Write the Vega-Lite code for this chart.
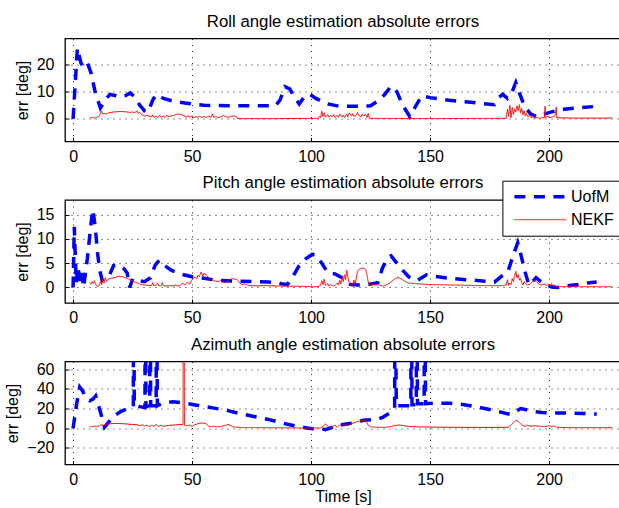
{
  "$schema": "https://vega.github.io/schema/vega-lite/v6.json",
  "padding": {"left": 4, "top": 12.5, "right": 0, "bottom": 2},
  "bounds": "flush",
  "spacing": 58.5,
  "config": {
    "font": "Liberation Sans",
    "view": {"stroke": "black", "strokeWidth": 1.3},
    "axis": {
      "labelFont": "Liberation Sans", "labelFontSize": 16, "labelColor": "black",
      "titleFont": "Liberation Sans", "titleFontSize": 16, "titleFontWeight": "normal", "titleColor": "black",
      "domain": false, "ticks": true, "tickSize": -4, "tickColor": "black", "tickWidth": 1,
      "grid": true, "gridColor": "black", "gridDash": [1, 5], "gridOpacity": 0.85, "gridWidth": 1
    },
    "axisX": {"labelPadding": 10.5, "titlePadding": 1},
    "axisY": {"labelPadding": 15, "titlePadding": 6},
    "title": {"font": "Liberation Sans", "fontSize": 16.8, "fontWeight": "normal", "color": "black", "offset": 8, "anchor": "middle", "frame": "group"}
  },
  "resolve": {"legend": {"color": "independent", "strokeDash": "independent", "strokeWidth": "independent"}},
  "datasets": {
    "roll": [
      {"t":0,"v":0,"s":"UofM"},{"t":1.8,"v":26,"s":"UofM"},{"t":3.3,"v":20.5,"s":"UofM"},{"t":4.5,"v":19,"s":"UofM"},{"t":6,"v":20.5,"s":"UofM"},{"t":7.5,"v":17,"s":"UofM"},{"t":9.5,"v":9,"s":"UofM"},{"t":11.5,"v":4,"s":"UofM"},{"t":13.5,"v":7,"s":"UofM"},{"t":15.5,"v":9,"s":"UofM"},{"t":18,"v":8.5,"s":"UofM"},{"t":20,"v":8,"s":"UofM"},{"t":22,"v":8.5,"s":"UofM"},{"t":24,"v":9.5,"s":"UofM"},{"t":26,"v":8,"s":"UofM"},{"t":28,"v":5,"s":"UofM"},{"t":30,"v":3,"s":"UofM"},{"t":31.5,"v":2.5,"s":"UofM"},{"t":33.5,"v":7,"s":"UofM"},{"t":35,"v":9,"s":"UofM"},{"t":38,"v":7.5,"s":"UofM"},{"t":42,"v":6.5,"s":"UofM"},{"t":47,"v":5.8,"s":"UofM"},{"t":55,"v":5,"s":"UofM"},{"t":65,"v":4.8,"s":"UofM"},{"t":75,"v":4.8,"s":"UofM"},{"t":85,"v":4.8,"s":"UofM"},{"t":87,"v":7,"s":"UofM"},{"t":89,"v":11.8,"s":"UofM"},{"t":91,"v":11,"s":"UofM"},{"t":93,"v":8,"s":"UofM"},{"t":95,"v":5.5,"s":"UofM"},{"t":97.5,"v":8.5,"s":"UofM"},{"t":99.5,"v":9,"s":"UofM"},{"t":102,"v":7.5,"s":"UofM"},{"t":107,"v":5.5,"s":"UofM"},{"t":112,"v":4.6,"s":"UofM"},{"t":118,"v":4.6,"s":"UofM"},{"t":125,"v":4.8,"s":"UofM"},{"t":128,"v":6.5,"s":"UofM"},{"t":131,"v":9,"s":"UofM"},{"t":133.5,"v":12,"s":"UofM"},{"t":136,"v":10,"s":"UofM"},{"t":138.5,"v":5,"s":"UofM"},{"t":141.5,"v":0.8,"s":"UofM"},{"t":143.5,"v":4,"s":"UofM"},{"t":146.5,"v":8.5,"s":"UofM"},{"t":150,"v":7.8,"s":"UofM"},{"t":158,"v":6.8,"s":"UofM"},{"t":166,"v":6.2,"s":"UofM"},{"t":172,"v":5.6,"s":"UofM"},{"t":177,"v":5.2,"s":"UofM"},{"t":179,"v":8,"s":"UofM"},{"t":180.5,"v":9,"s":"UofM"},{"t":182.5,"v":7.5,"s":"UofM"},{"t":184.5,"v":10,"s":"UofM"},{"t":186,"v":13.3,"s":"UofM"},{"t":187.5,"v":9.5,"s":"UofM"},{"t":189.5,"v":5,"s":"UofM"},{"t":192,"v":2,"s":"UofM"},{"t":194.5,"v":0.8,"s":"UofM"},{"t":197,"v":1.5,"s":"UofM"},{"t":200,"v":2.3,"s":"UofM"},{"t":203,"v":3,"s":"UofM"},{"t":207,"v":3.6,"s":"UofM"},{"t":212,"v":4.1,"s":"UofM"},{"t":218.5,"v":4.5,"s":"UofM"},
      {"t":7,"v":0.4,"s":"NEKF"},{"t":8,"v":0.5,"s":"NEKF"},{"t":9,"v":0.3,"s":"NEKF"},{"t":10,"v":0.6,"s":"NEKF"},{"t":11,"v":1.0,"s":"NEKF"},{"t":12,"v":2.8,"s":"NEKF"},{"t":12.5,"v":1.8,"s":"NEKF"},{"t":13,"v":2.0,"s":"NEKF"},{"t":14,"v":1.8,"s":"NEKF"},{"t":15,"v":2.2,"s":"NEKF"},{"t":16,"v":2.4,"s":"NEKF"},{"t":18,"v":2.6,"s":"NEKF"},{"t":20,"v":2.7,"s":"NEKF"},{"t":22,"v":2.6,"s":"NEKF"},{"t":24,"v":2.4,"s":"NEKF"},{"t":25,"v":2.5,"s":"NEKF"},{"t":26,"v":2.3,"s":"NEKF"},{"t":26.8,"v":3.0,"s":"NEKF"},{"t":27.3,"v":2.0,"s":"NEKF"},{"t":28,"v":2.4,"s":"NEKF"},{"t":28.8,"v":1.6,"s":"NEKF"},{"t":29.5,"v":1.2,"s":"NEKF"},{"t":30.5,"v":1.0,"s":"NEKF"},{"t":31,"v":1.4,"s":"NEKF"},{"t":32,"v":0.9,"s":"NEKF"},{"t":33,"v":0.7,"s":"NEKF"},{"t":33.5,"v":1.5,"s":"NEKF"},{"t":34,"v":0.6,"s":"NEKF"},{"t":35,"v":1.0,"s":"NEKF"},{"t":35.5,"v":0.5,"s":"NEKF"},{"t":36.5,"v":1.3,"s":"NEKF"},{"t":37,"v":0.6,"s":"NEKF"},{"t":38,"v":1.1,"s":"NEKF"},{"t":38.5,"v":0.5,"s":"NEKF"},{"t":39.5,"v":1.4,"s":"NEKF"},{"t":40,"v":0.7,"s":"NEKF"},{"t":41,"v":1.0,"s":"NEKF"},{"t":42,"v":1.2,"s":"NEKF"},{"t":43,"v":1.5,"s":"NEKF"},{"t":44,"v":1.8,"s":"NEKF"},{"t":45,"v":1.6,"s":"NEKF"},{"t":46,"v":1.4,"s":"NEKF"},{"t":47,"v":1.0,"s":"NEKF"},{"t":48,"v":0.6,"s":"NEKF"},{"t":48.5,"v":1.2,"s":"NEKF"},{"t":49,"v":0.5,"s":"NEKF"},{"t":50,"v":1.1,"s":"NEKF"},{"t":51,"v":0.4,"s":"NEKF"},{"t":51.5,"v":0.9,"s":"NEKF"},{"t":52.5,"v":0.5,"s":"NEKF"},{"t":53,"v":1.0,"s":"NEKF"},{"t":54,"v":0.6,"s":"NEKF"},{"t":55,"v":0.9,"s":"NEKF"},{"t":56,"v":0.5,"s":"NEKF"},{"t":57,"v":1.0,"s":"NEKF"},{"t":58,"v":0.6,"s":"NEKF"},{"t":58.5,"v":1.8,"s":"NEKF"},{"t":59,"v":0.6,"s":"NEKF"},{"t":60,"v":0.8,"s":"NEKF"},{"t":61,"v":0.5,"s":"NEKF"},{"t":62,"v":0.7,"s":"NEKF"},{"t":63,"v":1.2,"s":"NEKF"},{"t":64,"v":0.9,"s":"NEKF"},{"t":65,"v":0.6,"s":"NEKF"},{"t":66,"v":0.7,"s":"NEKF"},{"t":67,"v":1.1,"s":"NEKF"},{"t":68.5,"v":1.0,"s":"NEKF"},{"t":69,"v":0.2,"s":"NEKF"},{"t":70,"v":0.1,"s":"NEKF"},{"t":85,"v":0.1,"s":"NEKF"},{"t":103,"v":0.2,"s":"NEKF"},{"t":103.5,"v":1.0,"s":"NEKF"},{"t":104,"v":0.5,"s":"NEKF"},{"t":104.5,"v":2.8,"s":"NEKF"},{"t":105,"v":0.8,"s":"NEKF"},{"t":105.5,"v":2.2,"s":"NEKF"},{"t":106,"v":0.7,"s":"NEKF"},{"t":107,"v":1.5,"s":"NEKF"},{"t":107.5,"v":0.6,"s":"NEKF"},{"t":108,"v":1.2,"s":"NEKF"},{"t":109,"v":0.8,"s":"NEKF"},{"t":109.5,"v":1.6,"s":"NEKF"},{"t":110,"v":0.5,"s":"NEKF"},{"t":111,"v":1.3,"s":"NEKF"},{"t":111.5,"v":0.6,"s":"NEKF"},{"t":112,"v":1.8,"s":"NEKF"},{"t":113,"v":0.7,"s":"NEKF"},{"t":113.5,"v":1.4,"s":"NEKF"},{"t":114,"v":0.5,"s":"NEKF"},{"t":115,"v":1.7,"s":"NEKF"},{"t":115.5,"v":0.8,"s":"NEKF"},{"t":116,"v":2.2,"s":"NEKF"},{"t":117,"v":1.0,"s":"NEKF"},{"t":117.5,"v":1.9,"s":"NEKF"},{"t":118,"v":0.9,"s":"NEKF"},{"t":119,"v":1.5,"s":"NEKF"},{"t":119.5,"v":2.4,"s":"NEKF"},{"t":120,"v":1.2,"s":"NEKF"},{"t":121,"v":0.8,"s":"NEKF"},{"t":121.5,"v":1.8,"s":"NEKF"},{"t":122,"v":1.1,"s":"NEKF"},{"t":123,"v":1.6,"s":"NEKF"},{"t":123.5,"v":0.5,"s":"NEKF"},{"t":124,"v":2.0,"s":"NEKF"},{"t":124.5,"v":0.2,"s":"NEKF"},{"t":150,"v":0.1,"s":"NEKF"},{"t":182,"v":0.2,"s":"NEKF"},{"t":182.5,"v":3.5,"s":"NEKF"},{"t":183,"v":1.0,"s":"NEKF"},{"t":183.5,"v":5.0,"s":"NEKF"},{"t":184,"v":0.5,"s":"NEKF"},{"t":184.5,"v":4.2,"s":"NEKF"},{"t":185,"v":1.5,"s":"NEKF"},{"t":185.5,"v":3.6,"s":"NEKF"},{"t":186,"v":2.5,"s":"NEKF"},{"t":186.5,"v":4.8,"s":"NEKF"},{"t":187,"v":3.0,"s":"NEKF"},{"t":187.5,"v":5.2,"s":"NEKF"},{"t":188,"v":2.2,"s":"NEKF"},{"t":188.5,"v":3.8,"s":"NEKF"},{"t":189,"v":1.5,"s":"NEKF"},{"t":189.5,"v":3.0,"s":"NEKF"},{"t":190,"v":1.0,"s":"NEKF"},{"t":190.5,"v":2.2,"s":"NEKF"},{"t":191,"v":0.8,"s":"NEKF"},{"t":192,"v":1.4,"s":"NEKF"},{"t":192.5,"v":0.4,"s":"NEKF"},{"t":193.5,"v":1.0,"s":"NEKF"},{"t":194,"v":0.2,"s":"NEKF"},{"t":195,"v":0.6,"s":"NEKF"},{"t":196,"v":0.2,"s":"NEKF"},{"t":197,"v":0.5,"s":"NEKF"},{"t":198,"v":0.3,"s":"NEKF"},{"t":198.3,"v":4.6,"s":"NEKF"},{"t":198.6,"v":0.6,"s":"NEKF"},{"t":199.5,"v":0.9,"s":"NEKF"},{"t":200.5,"v":0.5,"s":"NEKF"},{"t":201.5,"v":0.8,"s":"NEKF"},{"t":202.5,"v":1.2,"s":"NEKF"},{"t":203,"v":4.3,"s":"NEKF"},{"t":203.2,"v":0.4,"s":"NEKF"},{"t":210,"v":0.3,"s":"NEKF"},{"t":226.5,"v":0.3,"s":"NEKF"}
    ],
    "pitch": [
      {"t":0,"v":0,"s":"UofM"},{"t":0.5,"v":12.5,"s":"UofM"},{"t":1.3,"v":1,"s":"UofM"},{"t":2,"v":4.3,"s":"UofM"},{"t":3,"v":1.2,"s":"UofM"},{"t":3.6,"v":3,"s":"UofM"},{"t":4.4,"v":0,"s":"UofM"},{"t":6,"v":6,"s":"UofM"},{"t":7.5,"v":13,"s":"UofM"},{"t":8.3,"v":16,"s":"UofM"},{"t":9.3,"v":12.5,"s":"UofM"},{"t":10.3,"v":7,"s":"UofM"},{"t":11.2,"v":3.5,"s":"UofM"},{"t":12.2,"v":1.5,"s":"UofM"},{"t":13.5,"v":2,"s":"UofM"},{"t":15,"v":2.2,"s":"UofM"},{"t":17,"v":4.5,"s":"UofM"},{"t":19,"v":4.6,"s":"UofM"},{"t":21.5,"v":3.8,"s":"UofM"},{"t":22.7,"v":3,"s":"UofM"},{"t":23.8,"v":0,"s":"UofM"},{"t":25,"v":1.8,"s":"UofM"},{"t":27.5,"v":1.4,"s":"UofM"},{"t":30,"v":1.2,"s":"UofM"},{"t":32.5,"v":2,"s":"UofM"},{"t":34.5,"v":4.6,"s":"UofM"},{"t":36.2,"v":5.6,"s":"UofM"},{"t":38,"v":4.7,"s":"UofM"},{"t":41,"v":3.6,"s":"UofM"},{"t":45,"v":2.8,"s":"UofM"},{"t":50,"v":2.2,"s":"UofM"},{"t":55,"v":1.9,"s":"UofM"},{"t":60,"v":1.5,"s":"UofM"},{"t":67,"v":1.3,"s":"UofM"},{"t":75,"v":1.2,"s":"UofM"},{"t":82,"v":1.1,"s":"UofM"},{"t":86,"v":1.0,"s":"UofM"},{"t":88,"v":0.7,"s":"UofM"},{"t":90,"v":0.6,"s":"UofM"},{"t":92,"v":2.0,"s":"UofM"},{"t":95,"v":4.5,"s":"UofM"},{"t":98,"v":6,"s":"UofM"},{"t":100.5,"v":6.8,"s":"UofM"},{"t":102,"v":6.7,"s":"UofM"},{"t":104.5,"v":5,"s":"UofM"},{"t":107,"v":3,"s":"UofM"},{"t":110,"v":2.8,"s":"UofM"},{"t":113,"v":2,"s":"UofM"},{"t":115,"v":1.2,"s":"UofM"},{"t":116.5,"v":0.6,"s":"UofM"},{"t":120,"v":0.5,"s":"UofM"},{"t":124,"v":0.6,"s":"UofM"},{"t":128,"v":1,"s":"UofM"},{"t":130,"v":4,"s":"UofM"},{"t":132,"v":6,"s":"UofM"},{"t":133.6,"v":6.5,"s":"UofM"},{"t":136,"v":5,"s":"UofM"},{"t":138.5,"v":3.5,"s":"UofM"},{"t":141,"v":2.2,"s":"UofM"},{"t":144.5,"v":1.4,"s":"UofM"},{"t":148.5,"v":2.6,"s":"UofM"},{"t":152,"v":2.3,"s":"UofM"},{"t":158,"v":1.9,"s":"UofM"},{"t":165,"v":1.6,"s":"UofM"},{"t":173,"v":1.3,"s":"UofM"},{"t":177,"v":1.1,"s":"UofM"},{"t":180,"v":2.3,"s":"UofM"},{"t":182.5,"v":3,"s":"UofM"},{"t":184.5,"v":6,"s":"UofM"},{"t":186.8,"v":9.2,"s":"UofM"},{"t":188,"v":7,"s":"UofM"},{"t":190,"v":3,"s":"UofM"},{"t":191.5,"v":0.5,"s":"UofM"},{"t":193,"v":1.2,"s":"UofM"},{"t":194.5,"v":2,"s":"UofM"},{"t":196.5,"v":1.2,"s":"UofM"},{"t":199,"v":0.5,"s":"UofM"},{"t":201,"v":0.1,"s":"UofM"},{"t":203.5,"v":0,"s":"UofM"},{"t":207,"v":0.3,"s":"UofM"},{"t":212,"v":0.6,"s":"UofM"},{"t":216,"v":0.9,"s":"UofM"},{"t":220,"v":1.1,"s":"UofM"},
      {"t":7,"v":1.0,"s":"NEKF"},{"t":7.5,"v":0.7,"s":"NEKF"},{"t":8,"v":1.2,"s":"NEKF"},{"t":8.5,"v":0.8,"s":"NEKF"},{"t":9,"v":1.4,"s":"NEKF"},{"t":9.5,"v":0.6,"s":"NEKF"},{"t":10,"v":0.3,"s":"NEKF"},{"t":10.5,"v":0.2,"s":"NEKF"},{"t":11,"v":0.4,"s":"NEKF"},{"t":11.5,"v":1.2,"s":"NEKF"},{"t":12,"v":0.5,"s":"NEKF"},{"t":12.5,"v":1.8,"s":"NEKF"},{"t":13,"v":0.9,"s":"NEKF"},{"t":13.5,"v":2.0,"s":"NEKF"},{"t":14,"v":1.2,"s":"NEKF"},{"t":14.5,"v":1.6,"s":"NEKF"},{"t":15,"v":1.7,"s":"NEKF"},{"t":16,"v":1.9,"s":"NEKF"},{"t":17,"v":2.0,"s":"NEKF"},{"t":18,"v":2.1,"s":"NEKF"},{"t":19,"v":2.3,"s":"NEKF"},{"t":20,"v":2.25,"s":"NEKF"},{"t":21,"v":2.2,"s":"NEKF"},{"t":22,"v":2.0,"s":"NEKF"},{"t":23,"v":1.8,"s":"NEKF"},{"t":24,"v":1.6,"s":"NEKF"},{"t":25,"v":1.3,"s":"NEKF"},{"t":26,"v":1.1,"s":"NEKF"},{"t":27,"v":0.9,"s":"NEKF"},{"t":28,"v":0.7,"s":"NEKF"},{"t":29,"v":0.6,"s":"NEKF"},{"t":30,"v":0.5,"s":"NEKF"},{"t":32,"v":0.4,"s":"NEKF"},{"t":33,"v":0.4,"s":"NEKF"},{"t":33.5,"v":1.0,"s":"NEKF"},{"t":34,"v":0.3,"s":"NEKF"},{"t":35,"v":0.5,"s":"NEKF"},{"t":35.5,"v":0.9,"s":"NEKF"},{"t":36,"v":0.3,"s":"NEKF"},{"t":37,"v":0.4,"s":"NEKF"},{"t":37.5,"v":1.0,"s":"NEKF"},{"t":38,"v":0.3,"s":"NEKF"},{"t":40,"v":0.3,"s":"NEKF"},{"t":41,"v":0.4,"s":"NEKF"},{"t":42,"v":0.3,"s":"NEKF"},{"t":43,"v":0.5,"s":"NEKF"},{"t":44,"v":0.3,"s":"NEKF"},{"t":45,"v":0.4,"s":"NEKF"},{"t":46,"v":0.9,"s":"NEKF"},{"t":47,"v":0.5,"s":"NEKF"},{"t":48,"v":1.1,"s":"NEKF"},{"t":49,"v":0.7,"s":"NEKF"},{"t":50,"v":1.6,"s":"NEKF"},{"t":51,"v":2.1,"s":"NEKF"},{"t":52,"v":1.8,"s":"NEKF"},{"t":52.5,"v":2.5,"s":"NEKF"},{"t":53,"v":2.2,"s":"NEKF"},{"t":53.8,"v":3.2,"s":"NEKF"},{"t":54.5,"v":2.4,"s":"NEKF"},{"t":55,"v":2.9,"s":"NEKF"},{"t":56,"v":2.6,"s":"NEKF"},{"t":57,"v":2.0,"s":"NEKF"},{"t":58,"v":1.6,"s":"NEKF"},{"t":59,"v":1.4,"s":"NEKF"},{"t":60,"v":1.3,"s":"NEKF"},{"t":61,"v":1.2,"s":"NEKF"},{"t":62,"v":1.4,"s":"NEKF"},{"t":63,"v":1.1,"s":"NEKF"},{"t":64,"v":1.0,"s":"NEKF"},{"t":65,"v":1.2,"s":"NEKF"},{"t":66,"v":1.7,"s":"NEKF"},{"t":67,"v":1.8,"s":"NEKF"},{"t":68,"v":1.7,"s":"NEKF"},{"t":69,"v":1.6,"s":"NEKF"},{"t":70,"v":0.9,"s":"NEKF"},{"t":71,"v":0.6,"s":"NEKF"},{"t":72,"v":0.7,"s":"NEKF"},{"t":73,"v":0.6,"s":"NEKF"},{"t":74,"v":0.4,"s":"NEKF"},{"t":78,"v":0.3,"s":"NEKF"},{"t":80,"v":0.4,"s":"NEKF"},{"t":86,"v":0.3,"s":"NEKF"},{"t":94,"v":0.25,"s":"NEKF"},{"t":98,"v":0.2,"s":"NEKF"},{"t":101,"v":0.1,"s":"NEKF"},{"t":103,"v":0.2,"s":"NEKF"},{"t":104,"v":0.5,"s":"NEKF"},{"t":104.5,"v":1.4,"s":"NEKF"},{"t":105,"v":0.6,"s":"NEKF"},{"t":105.5,"v":1.7,"s":"NEKF"},{"t":106,"v":0.4,"s":"NEKF"},{"t":107,"v":0.8,"s":"NEKF"},{"t":107.5,"v":0.3,"s":"NEKF"},{"t":108,"v":0.6,"s":"NEKF"},{"t":109,"v":0.3,"s":"NEKF"},{"t":110,"v":0.4,"s":"NEKF"},{"t":111,"v":0.9,"s":"NEKF"},{"t":111.5,"v":0.5,"s":"NEKF"},{"t":112,"v":1.5,"s":"NEKF"},{"t":112.5,"v":0.7,"s":"NEKF"},{"t":113,"v":2.2,"s":"NEKF"},{"t":113.5,"v":1.2,"s":"NEKF"},{"t":114,"v":2.6,"s":"NEKF"},{"t":114.5,"v":1.6,"s":"NEKF"},{"t":115,"v":3.5,"s":"NEKF"},{"t":115.5,"v":2.0,"s":"NEKF"},{"t":116,"v":1.0,"s":"NEKF"},{"t":116.5,"v":0.5,"s":"NEKF"},{"t":117.5,"v":0.6,"s":"NEKF"},{"t":118,"v":1.5,"s":"NEKF"},{"t":118.5,"v":0.6,"s":"NEKF"},{"t":119,"v":2.0,"s":"NEKF"},{"t":119.5,"v":3.3,"s":"NEKF"},{"t":120,"v":3.7,"s":"NEKF"},{"t":121,"v":3.9,"s":"NEKF"},{"t":122,"v":4.0,"s":"NEKF"},{"t":123,"v":3.7,"s":"NEKF"},{"t":123.5,"v":2.5,"s":"NEKF"},{"t":124,"v":1.2,"s":"NEKF"},{"t":124.5,"v":0.6,"s":"NEKF"},{"t":126,"v":0.7,"s":"NEKF"},{"t":127,"v":0.5,"s":"NEKF"},{"t":128,"v":0.6,"s":"NEKF"},{"t":130,"v":0.3,"s":"NEKF"},{"t":132,"v":0.6,"s":"NEKF"},{"t":133,"v":0.9,"s":"NEKF"},{"t":134,"v":1.3,"s":"NEKF"},{"t":135,"v":1.7,"s":"NEKF"},{"t":136,"v":2.0,"s":"NEKF"},{"t":137,"v":2.0,"s":"NEKF"},{"t":138,"v":1.7,"s":"NEKF"},{"t":139,"v":1.4,"s":"NEKF"},{"t":140,"v":1.1,"s":"NEKF"},{"t":141,"v":0.9,"s":"NEKF"},{"t":143,"v":0.8,"s":"NEKF"},{"t":150,"v":0.6,"s":"NEKF"},{"t":160,"v":0.5,"s":"NEKF"},{"t":170,"v":0.4,"s":"NEKF"},{"t":180,"v":0.35,"s":"NEKF"},{"t":182,"v":0.5,"s":"NEKF"},{"t":182.5,"v":1.6,"s":"NEKF"},{"t":183,"v":0.4,"s":"NEKF"},{"t":183.5,"v":0.9,"s":"NEKF"},{"t":184,"v":0.6,"s":"NEKF"},{"t":184.5,"v":1.8,"s":"NEKF"},{"t":185,"v":1.2,"s":"NEKF"},{"t":185.5,"v":2.5,"s":"NEKF"},{"t":186,"v":3.3,"s":"NEKF"},{"t":186.5,"v":2.0,"s":"NEKF"},{"t":187,"v":2.6,"s":"NEKF"},{"t":187.5,"v":1.5,"s":"NEKF"},{"t":188,"v":1.9,"s":"NEKF"},{"t":188.5,"v":1.0,"s":"NEKF"},{"t":189,"v":0.5,"s":"NEKF"},{"t":189.5,"v":1.2,"s":"NEKF"},{"t":190,"v":0.8,"s":"NEKF"},{"t":191,"v":0.5,"s":"NEKF"},{"t":192,"v":0.7,"s":"NEKF"},{"t":193,"v":1.2,"s":"NEKF"},{"t":194,"v":1.5,"s":"NEKF"},{"t":195,"v":1.0,"s":"NEKF"},{"t":196,"v":0.6,"s":"NEKF"},{"t":197,"v":0.5,"s":"NEKF"},{"t":198,"v":0.7,"s":"NEKF"},{"t":199,"v":0.4,"s":"NEKF"},{"t":200,"v":0.6,"s":"NEKF"},{"t":200.5,"v":0.3,"s":"NEKF"},{"t":201,"v":0.8,"s":"NEKF"},{"t":201.5,"v":0.3,"s":"NEKF"},{"t":202,"v":0.5,"s":"NEKF"},{"t":203,"v":0.2,"s":"NEKF"},{"t":210,"v":0.15,"s":"NEKF"},{"t":226.5,"v":0.15,"s":"NEKF"}
    ],
    "azimuth": [
      {"t":0,"v":0,"s":"UofM"},{"t":1.5,"v":25,"s":"UofM"},{"t":2.8,"v":42,"s":"UofM"},{"t":4,"v":38,"s":"UofM"},{"t":5.5,"v":30,"s":"UofM"},{"t":7,"v":28,"s":"UofM"},{"t":8.5,"v":30,"s":"UofM"},{"t":9.5,"v":33,"s":"UofM"},{"t":10.5,"v":25,"s":"UofM"},{"t":12,"v":12,"s":"UofM"},{"t":13.2,"v":1,"s":"UofM"},{"t":14.5,"v":5,"s":"UofM"},{"t":17,"v":12,"s":"UofM"},{"t":20,"v":17,"s":"UofM"},{"t":23,"v":20,"s":"UofM"},{"t":25.3,"v":22,"s":"UofM"},{"t":25.4,"v":160,"s":"UofM"},{"t":25.5,"v":160,"s":"UofM"},{"t":25.7,"v":24,"s":"UofM"},{"t":28,"v":22,"s":"UofM"},{"t":30.2,"v":21,"s":"UofM"},{"t":30.3,"v":160,"s":"UofM"},{"t":30.4,"v":160,"s":"UofM"},{"t":30.6,"v":22,"s":"UofM"},{"t":32.2,"v":23,"s":"UofM"},{"t":32.3,"v":160,"s":"UofM"},{"t":32.4,"v":160,"s":"UofM"},{"t":32.6,"v":23,"s":"UofM"},{"t":34.9,"v":23,"s":"UofM"},{"t":35,"v":160,"s":"UofM"},{"t":35.1,"v":160,"s":"UofM"},{"t":35.4,"v":23,"s":"UofM"},{"t":38,"v":26,"s":"UofM"},{"t":42,"v":27,"s":"UofM"},{"t":47,"v":25.5,"s":"UofM"},{"t":52,"v":23.5,"s":"UofM"},{"t":58,"v":21,"s":"UofM"},{"t":64,"v":18.5,"s":"UofM"},{"t":70,"v":15,"s":"UofM"},{"t":76,"v":12,"s":"UofM"},{"t":82,"v":9,"s":"UofM"},{"t":86,"v":6.5,"s":"UofM"},{"t":90,"v":4,"s":"UofM"},{"t":94,"v":2,"s":"UofM"},{"t":97,"v":0.8,"s":"UofM"},{"t":99,"v":0,"s":"UofM"},{"t":101,"v":-0.5,"s":"UofM"},{"t":104,"v":-0.3,"s":"UofM"},{"t":106,"v":-1.5,"s":"UofM"},{"t":108,"v":0,"s":"UofM"},{"t":110,"v":2,"s":"UofM"},{"t":114,"v":4,"s":"UofM"},{"t":118,"v":5.5,"s":"UofM"},{"t":122,"v":8,"s":"UofM"},{"t":125,"v":8.5,"s":"UofM"},{"t":128,"v":9,"s":"UofM"},{"t":130,"v":11,"s":"UofM"},{"t":132,"v":14,"s":"UofM"},{"t":134,"v":17,"s":"UofM"},{"t":135.1,"v":20,"s":"UofM"},{"t":135.2,"v":160,"s":"UofM"},{"t":135.3,"v":160,"s":"UofM"},{"t":135.8,"v":23,"s":"UofM"},{"t":139,"v":23,"s":"UofM"},{"t":141.9,"v":23,"s":"UofM"},{"t":142,"v":160,"s":"UofM"},{"t":142.1,"v":160,"s":"UofM"},{"t":142.4,"v":24,"s":"UofM"},{"t":144.2,"v":24,"s":"UofM"},{"t":144.3,"v":160,"s":"UofM"},{"t":144.4,"v":160,"s":"UofM"},{"t":144.7,"v":25,"s":"UofM"},{"t":147.5,"v":25,"s":"UofM"},{"t":147.6,"v":160,"s":"UofM"},{"t":147.7,"v":160,"s":"UofM"},{"t":148.1,"v":25,"s":"UofM"},{"t":152,"v":25.5,"s":"UofM"},{"t":158,"v":25.5,"s":"UofM"},{"t":163,"v":24.5,"s":"UofM"},{"t":168,"v":22.5,"s":"UofM"},{"t":173,"v":20,"s":"UofM"},{"t":178,"v":17.5,"s":"UofM"},{"t":182,"v":15,"s":"UofM"},{"t":184,"v":14,"s":"UofM"},{"t":186,"v":17,"s":"UofM"},{"t":188,"v":20,"s":"UofM"},{"t":190,"v":19,"s":"UofM"},{"t":193,"v":17,"s":"UofM"},{"t":197,"v":16,"s":"UofM"},{"t":202,"v":15.5,"s":"UofM"},{"t":208,"v":15.5,"s":"UofM"},{"t":214,"v":15,"s":"UofM"},{"t":220,"v":14.5,"s":"UofM"},
      {"t":7,"v":2,"s":"NEKF"},{"t":8,"v":1.5,"s":"NEKF"},{"t":9,"v":2,"s":"NEKF"},{"t":10,"v":1.8,"s":"NEKF"},{"t":11,"v":2.5,"s":"NEKF"},{"t":12,"v":3.5,"s":"NEKF"},{"t":13,"v":3,"s":"NEKF"},{"t":14,"v":4,"s":"NEKF"},{"t":15,"v":4.5,"s":"NEKF"},{"t":17,"v":4.8,"s":"NEKF"},{"t":19,"v":4.8,"s":"NEKF"},{"t":21,"v":4.6,"s":"NEKF"},{"t":23,"v":4.2,"s":"NEKF"},{"t":25,"v":3.8,"s":"NEKF"},{"t":27,"v":3.5,"s":"NEKF"},{"t":28,"v":2.5,"s":"NEKF"},{"t":29,"v":3.5,"s":"NEKF"},{"t":30,"v":2.5,"s":"NEKF"},{"t":31,"v":3.2,"s":"NEKF"},{"t":32,"v":1.5,"s":"NEKF"},{"t":33,"v":3,"s":"NEKF"},{"t":34,"v":2,"s":"NEKF"},{"t":35,"v":3.8,"s":"NEKF"},{"t":36,"v":1.8,"s":"NEKF"},{"t":37,"v":3,"s":"NEKF"},{"t":38,"v":1.5,"s":"NEKF"},{"t":39,"v":2.5,"s":"NEKF"},{"t":40,"v":2.8,"s":"NEKF"},{"t":42,"v":3.2,"s":"NEKF"},{"t":44,"v":3.5,"s":"NEKF"},{"t":46.2,"v":3.8,"s":"NEKF"},{"t":46.3,"v":200,"s":"NEKF"},{"t":46.45,"v":100,"s":"NEKF"},{"t":46.6,"v":200,"s":"NEKF"},{"t":46.8,"v":3,"s":"NEKF"},{"t":48,"v":2.5,"s":"NEKF"},{"t":49,"v":3.2,"s":"NEKF"},{"t":50,"v":1.5,"s":"NEKF"},{"t":51,"v":3.5,"s":"NEKF"},{"t":52,"v":4.2,"s":"NEKF"},{"t":53,"v":5,"s":"NEKF"},{"t":54,"v":5.3,"s":"NEKF"},{"t":55,"v":5,"s":"NEKF"},{"t":56,"v":4.5,"s":"NEKF"},{"t":57,"v":2,"s":"NEKF"},{"t":58,"v":1.5,"s":"NEKF"},{"t":59,"v":2,"s":"NEKF"},{"t":60,"v":1.5,"s":"NEKF"},{"t":62,"v":1.5,"s":"NEKF"},{"t":63,"v":2.5,"s":"NEKF"},{"t":64,"v":2.8,"s":"NEKF"},{"t":65,"v":4,"s":"NEKF"},{"t":66,"v":3,"s":"NEKF"},{"t":67,"v":1.5,"s":"NEKF"},{"t":68,"v":1,"s":"NEKF"},{"t":70,"v":0.8,"s":"NEKF"},{"t":75,"v":0.6,"s":"NEKF"},{"t":80,"v":0.5,"s":"NEKF"},{"t":90,"v":0.4,"s":"NEKF"},{"t":100,"v":0.2,"s":"NEKF"},{"t":104,"v":0.2,"s":"NEKF"},{"t":105,"v":2,"s":"NEKF"},{"t":106,"v":4.5,"s":"NEKF"},{"t":107,"v":2,"s":"NEKF"},{"t":108,"v":0.5,"s":"NEKF"},{"t":109,"v":1.5,"s":"NEKF"},{"t":110,"v":3,"s":"NEKF"},{"t":111,"v":1,"s":"NEKF"},{"t":112,"v":3.5,"s":"NEKF"},{"t":113,"v":2,"s":"NEKF"},{"t":114,"v":4,"s":"NEKF"},{"t":115,"v":2.5,"s":"NEKF"},{"t":116,"v":3,"s":"NEKF"},{"t":117,"v":4.5,"s":"NEKF"},{"t":118,"v":5.5,"s":"NEKF"},{"t":119,"v":6.5,"s":"NEKF"},{"t":120,"v":7,"s":"NEKF"},{"t":121,"v":7.5,"s":"NEKF"},{"t":122,"v":8,"s":"NEKF"},{"t":123,"v":7.5,"s":"NEKF"},{"t":124,"v":3,"s":"NEKF"},{"t":125,"v":1.5,"s":"NEKF"},{"t":127,"v":1,"s":"NEKF"},{"t":131,"v":0.8,"s":"NEKF"},{"t":133,"v":1.5,"s":"NEKF"},{"t":135,"v":2.5,"s":"NEKF"},{"t":137,"v":3.3,"s":"NEKF"},{"t":139,"v":2.5,"s":"NEKF"},{"t":141,"v":1.8,"s":"NEKF"},{"t":143,"v":1.5,"s":"NEKF"},{"t":146,"v":1.3,"s":"NEKF"},{"t":150,"v":1.2,"s":"NEKF"},{"t":155,"v":1,"s":"NEKF"},{"t":160,"v":0.9,"s":"NEKF"},{"t":170,"v":0.8,"s":"NEKF"},{"t":180,"v":0.8,"s":"NEKF"},{"t":183,"v":1,"s":"NEKF"},{"t":184,"v":3,"s":"NEKF"},{"t":185,"v":6,"s":"NEKF"},{"t":186,"v":8,"s":"NEKF"},{"t":187,"v":7,"s":"NEKF"},{"t":188,"v":4.5,"s":"NEKF"},{"t":189,"v":2.5,"s":"NEKF"},{"t":190,"v":2,"s":"NEKF"},{"t":191,"v":3,"s":"NEKF"},{"t":192,"v":2,"s":"NEKF"},{"t":194,"v":2.5,"s":"NEKF"},{"t":196,"v":2,"s":"NEKF"},{"t":198,"v":1.5,"s":"NEKF"},{"t":200,"v":2.5,"s":"NEKF"},{"t":201,"v":1.5,"s":"NEKF"},{"t":202,"v":2.5,"s":"NEKF"},{"t":203,"v":1,"s":"NEKF"},{"t":205,"v":0.8,"s":"NEKF"},{"t":210,"v":0.5,"s":"NEKF"},{"t":226.5,"v":0.5,"s":"NEKF"}
    ]
  },
  "vconcat": [
    {
      "title": "Roll angle estimation absolute errors",
      "width": 556, "height": 103,
      "data": {"name": "roll"},
      "encoding": {
        "x": {"field": "t", "type": "quantitative", "scale": {"domain": [-3.4, 230.2], "nice": false, "zero": false}, "axis": {"values": [0, 50, 100, 150, 200], "title": null}},
        "y": {"field": "v", "type": "quantitative", "scale": {"domain": [-8.3, 29.5], "nice": false, "zero": false}, "axis": {"values": [0, 10, 20], "title": "err [deg]"}},
        "color": {"field": "s", "type": "nominal", "scale": {"domain": ["UofM", "NEKF"], "range": ["#0000ff", "#ff0000"]}, "legend": null},
        "strokeDash": {"field": "s", "type": "nominal", "scale": {"domain": ["UofM", "NEKF"], "range": [[11, 8.5], [1, 0]]}, "legend": null},
        "strokeWidth": {"field": "s", "type": "nominal", "scale": {"domain": ["UofM", "NEKF"], "range": [3.5, 1]}, "legend": null}
      },
      "layer": [
        {"transform": [{"filter": "datum.s === 'UofM'"}], "mark": {"type": "line", "clip": true, "strokeCap": "butt"}},
        {"transform": [{"filter": "datum.s === 'NEKF'"}], "mark": {"type": "line", "clip": true}}
      ]
    },
    {
      "title": {"text": "Pitch angle estimation absolute errors", "offset": -11.3},
      "width": 556, "height": 103,
      "data": {"name": "pitch"},
      "encoding": {
        "x": {"field": "t", "type": "quantitative", "scale": {"domain": [-3.4, 230.2], "nice": false, "zero": false}, "axis": {"values": [0, 50, 100, 150, 200], "title": null}},
        "y": {"field": "v", "type": "quantitative", "scale": {"domain": [-3.2, 18], "nice": false, "zero": false}, "axis": {"values": [0, 5, 10, 15], "title": "err [deg]"}},
        "color": {"field": "s", "type": "nominal", "scale": {"domain": ["UofM", "NEKF"], "range": ["#0000ff", "#ff0000"]},
          "legend": {"orient": "none", "legendX": 437.4, "legendY": -19.3, "title": null, "symbolType": "stroke", "symbolSize": 2704, "clipHeight": 16,
            "labelFont": "Liberation Sans", "labelFontSize": 16, "labelColor": "black", "labelOffset": 2.6, "symbolOffset": 2, "padding": 8, "rowPadding": 7,
            "strokeColor": "black", "fillColor": "white", "cornerRadius": 0}},
        "strokeDash": {"field": "s", "type": "nominal", "scale": {"domain": ["UofM", "NEKF"], "range": [[11, 8.5], [1, 0]]}},
        "strokeWidth": {"field": "s", "type": "nominal", "scale": {"domain": ["UofM", "NEKF"], "range": [3.5, 1]}}
      },
      "layer": [
        {"transform": [{"filter": "datum.s === 'UofM'"}], "mark": {"type": "line", "clip": true, "strokeCap": "butt"}},
        {"transform": [{"filter": "datum.s === 'NEKF'"}], "mark": {"type": "line", "clip": true}}
      ]
    },
    {
      "title": "Azimuth angle estimation absolute errors",
      "width": 556, "height": 103,
      "data": {"name": "azimuth"},
      "encoding": {
        "x": {"field": "t", "type": "quantitative", "scale": {"domain": [-3.4, 230.2], "nice": false, "zero": false}, "axis": {"values": [0, 50, 100, 150, 200], "title": "Time [s]"}},
        "y": {"field": "v", "type": "quantitative", "scale": {"domain": [-37, 68], "nice": false, "zero": false}, "axis": {"values": [-20, 0, 20, 40, 60], "title": "err [deg]"}},
        "color": {"field": "s", "type": "nominal", "scale": {"domain": ["UofM", "NEKF"], "range": ["#0000ff", "#ff0000"]}, "legend": null},
        "strokeDash": {"field": "s", "type": "nominal", "scale": {"domain": ["UofM", "NEKF"], "range": [[11, 8.5], [1, 0]]}, "legend": null},
        "strokeWidth": {"field": "s", "type": "nominal", "scale": {"domain": ["UofM", "NEKF"], "range": [3.5, 1]}, "legend": null}
      },
      "layer": [
        {"transform": [{"filter": "datum.s === 'UofM'"}], "mark": {"type": "line", "clip": true, "strokeCap": "butt"}},
        {"transform": [{"filter": "datum.s === 'NEKF'"}], "mark": {"type": "line", "clip": true}}
      ]
    }
  ]
}
